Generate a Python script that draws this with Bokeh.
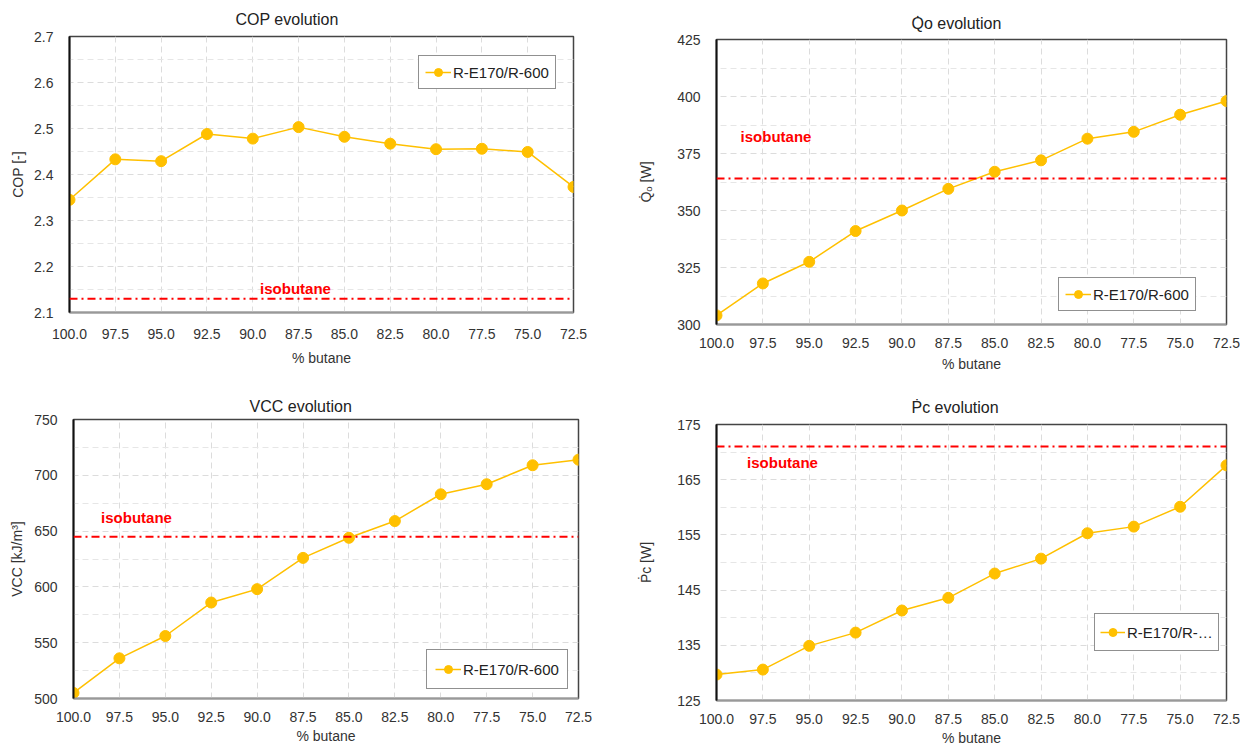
from bokeh.plotting import figure
from bokeh.layouts import row, column
from bokeh.models import Range1d, FixedTicker, Label, Span, Legend, LegendItem, NumeralTickFormatter
from bokeh.embed import file_html
from bokeh.resources import INLINE

butane = [100.0, 97.5, 95.0, 92.5, 90.0, 87.5, 85.0, 82.5, 80.0, 77.5, 75.0, 72.5]
cop = [2.345, 2.433, 2.429, 2.488, 2.478, 2.503, 2.482, 2.467, 2.455, 2.456, 2.449, 2.373]
qo = [304.0, 318.0, 327.5, 341.0, 350.0, 359.5, 367.0, 372.0, 381.5, 384.5, 392.0, 398.0]
vcc = [505.0, 536.0, 556.0, 586.0, 598.0, 626.0, 644.0, 659.0, 683.0, 692.0, 709.0, 714.0]
pc = [129.7, 130.6, 134.9, 137.3, 141.3, 143.6, 148.0, 150.7, 155.3, 156.5, 160.1, 167.6]
iso_cop, iso_qo, iso_vcc, iso_pc = 2.13, 364.0, 645.0, 171.0

FONT = "Liberation Sans"
GOLD = "#FFC000"


def make(title, ylabel, y, iso, yr, yticks, yminor, yfmt, legend_text, leg_loc, leg_pad, leg_lh,
         leg_gw, iso_lbl, fw, fh, bl, br, bt, bb, ylab_standoff, title_off, title_so,
         xtick_so, xlab_so):
    p = figure(frame_width=fw, frame_height=fh,
               output_backend="svg", toolbar_location=None,
               x_range=Range1d(100.0, 72.5), y_range=Range1d(*yr),
               min_border_left=bl, min_border_right=br,
               min_border_top=bt, min_border_bottom=bb)
    p.title.text = title
    p.title.align = "left"
    p.title.offset = title_off
    p.title.standoff = title_so
    p.title.text_font = FONT
    p.title.text_font_size = "16px"
    p.title.text_font_style = "normal"
    p.title.text_color = "#222222"
    p.xaxis.ticker = FixedTicker(ticks=butane)
    p.xaxis.formatter = NumeralTickFormatter(format="0.0")
    p.yaxis.ticker = FixedTicker(ticks=yticks, minor_ticks=yminor)
    p.yaxis.formatter = NumeralTickFormatter(format=yfmt)
    for ax in (p.xaxis[0], p.yaxis[0]):
        ax.major_tick_line_color = None
        ax.minor_tick_line_color = None
        ax.major_label_text_font = FONT
        ax.major_label_text_font_size = "14px"
        ax.major_label_text_color = "#333333"
        ax.axis_label_text_font = FONT
        ax.axis_label_text_font_size = "14px"
        ax.axis_label_text_font_style = "normal"
        ax.axis_label_text_color = "#333333"
    p.xaxis.axis_label = "% butane"
    p.yaxis.axis_label = ylabel
    p.xaxis.axis_line_color = "#999999"
    p.xaxis.axis_line_width = 2
    p.yaxis.axis_line_color = "#111111"
    p.yaxis.axis_line_width = 2
    p.xaxis.major_label_standoff = xtick_so
    p.yaxis.major_label_standoff = 10
    p.xaxis.axis_label_standoff = xlab_so
    p.yaxis.axis_label_standoff = ylab_standoff
    p.outline_line_color = "#444444"
    p.outline_line_width = 1.5
    p.xgrid.grid_line_color = "#dcdcdc"
    p.xgrid.grid_line_dash = "6 4"
    p.ygrid.grid_line_color = "#dcdcdc"
    p.ygrid.grid_line_dash = "6 4"
    p.ygrid.minor_grid_line_color = "#e6e6e6"
    p.ygrid.minor_grid_line_dash = "6 4"

    p.add_layout(Span(location=iso, dimension="width", line_color="#FF0000",
                      line_width=2, line_dash="8 4 2 4"))
    p.add_layout(Label(x=iso_lbl[0], y=iso_lbl[1], text="isobutane", text_color="#FF0000",
                       text_font=FONT, text_font_style="bold", text_font_size="15px",
                       text_baseline="middle", text_align="left"))

    r1 = p.line(butane, y, line_color=GOLD, line_width=1.5)
    r2 = p.scatter(butane, y, size=11, fill_color=GOLD, line_color=GOLD)
    leg = Legend(items=[LegendItem(label=legend_text, renderers=[r1, r2])],
                 location=leg_loc, border_line_color="#222222", border_line_width=1.5,
                 label_text_font=FONT, label_text_font_size="15px", label_text_color="#222222",
                 padding=leg_pad, spacing=0, glyph_width=leg_gw, label_standoff=2, margin=0,
                 label_height=leg_lh, background_fill_alpha=1)
    p.add_layout(leg)
    return p


p1 = make("COP evolution", "COP [-]", cop, iso_cop, (2.1, 2.7),
          [2.1, 2.2, 2.3, 2.4, 2.5, 2.6, 2.7],
          [2.15, 2.25, 2.35, 2.45, 2.55, 2.65], "0.0",
          "R-E170/R-600", (349, 223), 6, 20, 26, (89.6, 2.153),
          504, 276, 69, 45, 36, 62, 5, 166, 17, 10, 8)
p2 = make("Q\u0307o evolution", "Q\u0307\u2092 [W]", qo, iso_qo, (300, 425),
          [300, 325, 350, 375, 400, 425],
          [312.5, 337.5, 362.5, 387.5, 412.5], "0",
          "R-E170/R-600", (342, 13), 6, 20, 26, (98.7, 382.5),
          510, 285, 98, 14, 39, 50, 20, 195, 15, 7, 5)
p3 = make("VCC evolution", "VCC [kJ/m\u00b3]", vcc, iso_vcc, (500, 750),
          [500, 550, 600, 650, 700, 750],
          [525, 575, 625, 675, 725], "0",
          "R-E170/R-600", (353, 9), 8, 22, 26, (98.5, 662.0),
          505, 279, 73, 40, 45, 48, 6, 176, 10, 7, 3)
p4 = make("\u1E56c evolution", "\u1E56c [W]", pc, iso_pc, (125, 175),
          [125, 135, 145, 155, 165, 175],
          [130, 140, 150, 160, 170], "0",
          "R-E170/R-\u2026", (378, 49), 5, 26, 25, (98.35, 168.1),
          510, 276, 98, 14, 50, 48, 20, 195, 17, 7, 3)

layout = column(row(column(p1), column(p2), spacing=0),
                row(column(p3), column(p4), spacing=0), spacing=0)
open("out.html", "w").write(file_html(layout, INLINE))
